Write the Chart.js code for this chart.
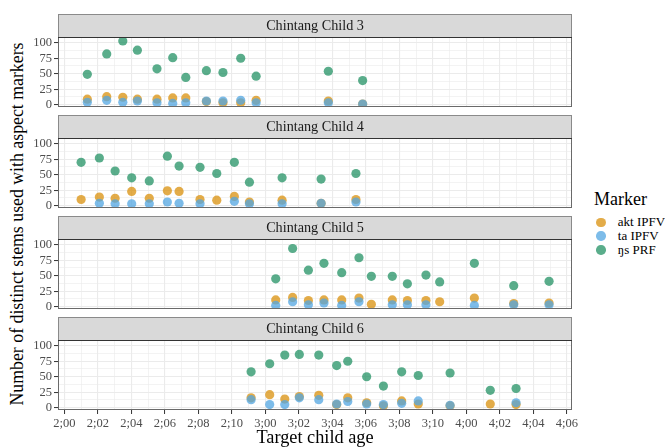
<!DOCTYPE html>
<html>
<head>
<meta charset="utf-8">
<script src="https://cdn.jsdelivr.net/npm/chart.js@4"></script>
<style>
  html, body { margin: 0; padding: 0; background: #fff; }
  #wrap { position: relative; width: 665px; height: 447px; overflow: hidden; font-family: "Liberation Serif", "Times New Roman", serif; background: #fff; }
  #wrap canvas { position: absolute; left: 0; }
  #ytitle { position: absolute; left: 17px; top: 224px; transform: translate(-50%, -50%) rotate(-90deg); white-space: nowrap; font-size: 17.8px; color: #000; }
  #legend { position: absolute; left: 594px; top: 188px; width: 80px; color: #000; white-space: nowrap; }
  #legTitle { font-size: 18px; line-height: 22px; height: 22px; margin-bottom: 5.5px; }
  .legRow { display: flex; align-items: center; height: 13.75px; font-size: 13px; white-space: nowrap; }
  .legDot { flex: none; width: 9.5px; height: 9.5px; border-radius: 50%; margin-left: 2.3px; margin-right: 12px; }
</style>
</head>
<body>
<div id="wrap">
  <div id="ytitle">Number of distinct stems used with aspect markers</div>
  <div id="legend"><div id="legTitle">Marker</div><div id="legItems"></div></div>
</div>
<script>
// Series (marker) names and fill colours
const seriesNames = ['akt IPFV', 'ta IPFV', 'ŋs PRF'];
const seriesColors = ['rgba(217,144,12,0.75)', 'rgba(81,165,225,0.75)', 'rgba(35,145,100,0.75)'];

// Facet titles
const panelTitles = ['Chintang Child 3', 'Chintang Child 4', 'Chintang Child 5', 'Chintang Child 6'];

// Age axis tick labels (years;months) and count axis tick labels
const ageTickLabels = ['2;00', '2;02', '2;04', '2;06', '2;08', '2;10', '3;00', '3;02', '3;04', '3;06', '3;08', '3;10', '4;00', '4;02', '4;04', '4;06'];
const countTickLabels = [0, 25, 50, 75, 100];

// Recording ages in months, one array per child
const child3Ages = [25.37, 26.53, 27.49, 28.36, 29.53, 30.47, 31.25, 32.48, 33.47, 34.53, 35.45, 39.76, 41.81];
const child3Akt  = [9, 13, 12, 9, 9, 11, 11, 5, 3, 3, 7, 6, 1];
const child3Ta   = [4, 7, 4, 6, 3, 2, 3, 6, 6, 7, 3, 3, 1];
const child3Ngs  = [49, 82, 103, 88, 58, 76, 44, 55, 52, 75, 46, 54, 39];

const child4Ages = [25.00, 26.09, 27.03, 28.02, 29.07, 30.15, 30.85, 32.10, 33.10, 34.15, 35.05, 37.00, 39.33, 41.41];
const child4Akt  = [10, 14, 12, 23, 12, 24, 23, 10, 9, 15, 6, 9, 4, 10];
const child4Ta   = [null, 4, 3, 3, 3, 6, 4, 3, null, 7, 3, 3, 4, 6];
const child4Ngs  = [70, 77, 56, 45, 40, 80, 64, 62, 52, 70, 38, 45, 43, 52];

const child5Ages = [36.62, 37.63, 38.57, 39.50, 40.56, 41.59, 42.33, 43.58, 44.48, 45.59, 46.41, 48.48, 50.83, 52.94];
const child5Akt  = [11, 15, 10, 11, 11, 14, 4, 11, 10, 10, 8, 14, 5, 6];
const child5Ta   = [2, 8, 3, 6, 2, 8, null, 3, 3, 3, null, 2, 3, 3];
const child5Ngs  = [45, 94, 59, 70, 55, 79, 49, 49, 37, 51, 40, 70, 34, 41];

const child6Ages = [35.15, 36.26, 37.16, 38.03, 39.19, 40.26, 40.92, 42.05, 43.05, 44.14, 45.13, 47.03, 49.43, 50.97];
const child6Akt  = [16, 21, 14, 18, 20, 5, 16, 8, 3, 11, 6, 3, 6, 5];
const child6Ta   = [13, 5, 5, 16, 13, 6, 10, 6, 5, 7, 11, 4, null, 8];
const child6Ngs  = [58, 71, 85, 86, 85, 68, 75, 50, 35, 58, 52, 56, 28, 31];

const panels = [
  [child3Ages, child3Akt, child3Ta, child3Ngs],
  [child4Ages, child4Akt, child4Ta, child4Ngs],
  [child5Ages, child5Akt, child5Ta, child5Ngs],
  [child6Ages, child6Akt, child6Ta, child6Ngs]
];

// Layout
const FONT = '"Liberation Serif", "Times New Roman", serif';
const STRIP_H = 23;
const PANEL_H = 70;
const PANEL_STEP = 101;
const FIRST_STRIP_TOP = 14;
const GAP_BELOW = 11;
const CANVAS_W = 590;
const PLOT_LEFT = 58;
const PLOT_RIGHT = 572;
const X_MIN = 23.62, X_MAX = 54.31;
const Y_MIN = -3.7, Y_MAX = 109.3;

const toMonths = s => { const [y, m] = s.split(';').map(Number); return y * 12 + m; };
const ageMajor = ageTickLabels.map(toMonths);
const ageAll = [];
ageMajor.forEach((v, i) => { ageAll.push(v); if (i < ageMajor.length - 1) ageAll.push((v + ageMajor[i + 1]) / 2); });
const countAll = [];
countTickLabels.forEach((v, i) => { countAll.push(v); if (i < countTickLabels.length - 1) countAll.push((v + countTickLabels[i + 1]) / 2); });

const isMajorAge = v => ageMajor.includes(v);
const isMajorCount = v => countTickLabels.includes(v);

// Grey strip behind the facet title, white panel, and dark panel border
const facetFrame = {
  id: 'facetFrame',
  beforeDraw(chart) {
    const { ctx, chartArea: a } = chart;
    const l = Math.round(a.left), r = Math.round(a.right), t = Math.round(a.top);
    ctx.save();
    ctx.fillStyle = '#ffffff';
    ctx.fillRect(a.left, a.top, a.right - a.left, a.bottom - a.top);
    ctx.fillStyle = '#D9D9D9';
    ctx.fillRect(l, t - STRIP_H, r - l, STRIP_H);
    ctx.strokeStyle = '#8a8a8a';
    ctx.lineWidth = 1;
    ctx.strokeRect(l + 0.5, t - STRIP_H + 0.5, r - l - 1, STRIP_H);
    ctx.restore();
  },
  afterDatasetsDraw(chart) {
    const { ctx, chartArea: a } = chart;
    const l = Math.round(a.left), r = Math.round(a.right), t = Math.round(a.top), b = Math.round(a.bottom);
    ctx.save();
    ctx.strokeStyle = '#6a6a6a';
    ctx.lineWidth = 1;
    ctx.strokeRect(l + 0.5, t + 0.5, r - l - 1, b - t - 1);
    ctx.strokeStyle = '#333333';
    ctx.beginPath();
    ctx.moveTo(l, t + 0.5); ctx.lineTo(r, t + 0.5);
    ctx.stroke();
    ctx.restore();
  }
};

const wrap = document.getElementById('wrap');

panels.forEach((p, i) => {
  const [ages, akt, ta, ngs] = p;
  const isBottom = i === panels.length - 1;
  const top = FIRST_STRIP_TOP + i * PANEL_STEP - 2;
  const h = isBottom ? 447 - top : 2 + STRIP_H + PANEL_H + GAP_BELOW;
  const canvas = document.createElement('canvas');
  canvas.width = CANVAS_W; canvas.height = h;
  canvas.style.width = CANVAS_W + 'px'; canvas.style.height = h + 'px';
  canvas.style.top = top + 'px';
  wrap.appendChild(canvas);

  const datasets = [akt, ta, ngs].map((vals, k) => ({
    label: seriesNames[k],
    data: ages.map((a, j) => ({ x: a, y: vals[j] })).filter(pt => pt.y !== null),
    backgroundColor: seriesColors[k],
    borderWidth: 0,
    pointRadius: 4.6,
    pointHoverRadius: 4.6,
    order: 3 - k
  }));

  new Chart(canvas, {
    type: 'scatter',
    data: { datasets },
    plugins: [facetFrame],
    options: {
      responsive: false,
      animation: false,
      devicePixelRatio: 1,
      events: [],
      layout: { padding: { left: 0, right: CANVAS_W - PLOT_RIGHT, top: 2, bottom: 0 } },
      plugins: {
        legend: { display: false },
        tooltip: { enabled: false },
        title: {
          display: true,
          text: panelTitles[i],
          fullSize: false,
          color: '#1a1a1a',
          font: { family: FONT, size: 14.2, weight: 'normal', lineHeight: '16px' },
          padding: { top: 4, bottom: 3 }
        }
      },
      scales: {
        x: {
          type: 'linear',
          min: X_MIN, max: X_MAX,
          afterBuildTicks: s => { s.ticks = ageAll.map(v => ({ value: v })); },
          afterFit: s => { s.height = isBottom ? 37 : GAP_BELOW; },
          border: { display: false },
          grid: {
            color: '#EBEBEB',
            lineWidth: c => (c.tick && isMajorAge(c.tick.value)) ? 1.1 : 0.6,
            drawTicks: isBottom,
            tickLength: 4,
            tickColor: c => (c.tick && isMajorAge(c.tick.value)) ? '#333333' : 'rgba(0,0,0,0)',
            tickWidth: 1
          },
          ticks: {
            display: isBottom,
            autoSkip: false,
            maxRotation: 0,
            padding: 2,
            color: '#4D4D4D',
            font: { family: FONT, size: 12.5 },
            callback: v => { const k = ageMajor.indexOf(v); return k >= 0 ? ageTickLabels[k] : ''; }
          },
          title: {
            display: isBottom,
            text: 'Target child age',
            color: '#000',
            font: { family: FONT, size: 18.3, lineHeight: 1 },
            padding: { top: 0, bottom: 0 }
          }
        },
        y: {
          type: 'linear',
          min: Y_MIN, max: Y_MAX,
          afterBuildTicks: s => { s.ticks = countAll.map(v => ({ value: v })); },
          afterFit: s => { s.width = PLOT_LEFT; },
          border: { display: false },
          grid: {
            color: '#EBEBEB',
            lineWidth: c => (c.tick && isMajorCount(c.tick.value)) ? 1.1 : 0.6,
            drawTicks: true,
            tickLength: 4,
            tickColor: c => (c.tick && isMajorCount(c.tick.value)) ? '#333333' : 'rgba(0,0,0,0)',
            tickWidth: 1
          },
          ticks: {
            autoSkip: false,
            padding: 2,
            color: '#4D4D4D',
            font: { family: FONT, size: 12.5 },
            callback: v => isMajorCount(v) ? String(v) : ''
          }
        }
      }
    }
  });
});

// Legend built from the series names and colours
const legItems = document.getElementById('legItems');
seriesNames.forEach((name, k) => {
  const row = document.createElement('div');
  row.className = 'legRow';
  const dot = document.createElement('span');
  dot.className = 'legDot';
  dot.style.background = seriesColors[k];
  const txt = document.createElement('span');
  txt.textContent = name;
  row.appendChild(dot);
  row.appendChild(txt);
  legItems.appendChild(row);
});
</script>
</body>
</html>
